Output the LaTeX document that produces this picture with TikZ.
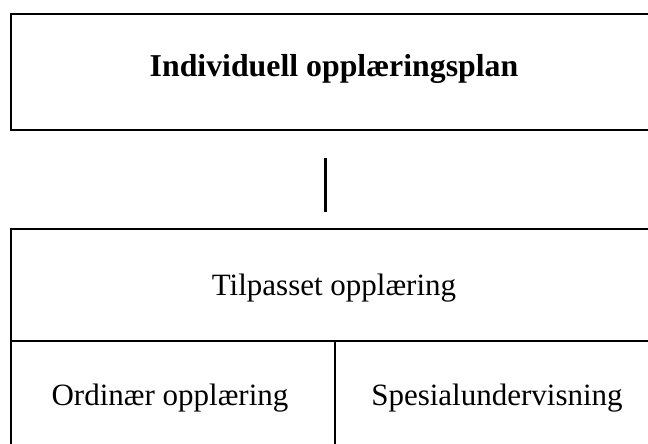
\documentclass[tikz,border=0pt]{standalone}
\usepackage{fontspec}
\setmainfont{Liberation Serif}
\begin{document}
\begin{tikzpicture}[x=1pt,y=-1pt,
  cell/.style={draw=black,line width=2.2pt,rectangle,inner sep=0pt,anchor=north west},
  lbl/.style={font=\fontsize{31}{36}\selectfont,anchor=base,inner sep=0pt},
  conn/.style={line width=2.2pt}]
\useasboundingbox (0,0) rectangle (648,444);
\clip (0,0) rectangle (648,444);
% top box
\node[cell,minimum width=648pt,minimum height=116pt] (ip) at (10,13) {};
\node[lbl,font=\fontsize{31.8}{36}\selectfont\bfseries] (ipt) at (334,77) {Individuell opplæringsplan};
% connector
\coordinate (c1) at (325.5,158);
\coordinate (c2) at (325.5,212);
\draw[conn] (c1) -- (c2);
% bottom table
\node[cell,minimum width=648pt,minimum height=112pt] (tp) at (10,228) {};
\node[cell,minimum width=324pt,minimum height=112pt] (ord) at (10,340) {};
\node[cell,minimum width=324pt,minimum height=112pt] (spes) at (334,340) {};
\node[lbl] (tpt) at (334,295) {Tilpasset opplæring};
\node[lbl] (ordt) at (170,405) {Ordinær opplæring};
\node[lbl] (spest) at (497,405) {Spesialundervisning};
\end{tikzpicture}
\end{document}
